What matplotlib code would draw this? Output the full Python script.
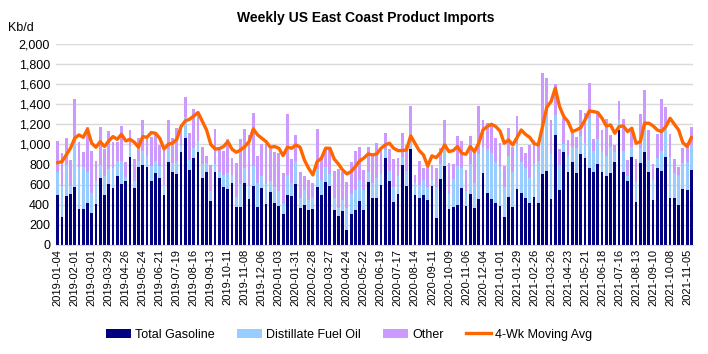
import matplotlib
matplotlib.use("Agg")
import matplotlib.pyplot as plt
import numpy as np
import pandas as pd

plt.rcParams["font.family"] = ["Liberation Sans", "DejaVu Sans"]

# weekly dates, 2019-01-04 .. 2021-11-12
weeks = pd.date_range("2019-01-04", periods=150, freq="7D")
week_labels = [d.strftime("%Y-%m-%d") for d in weeks]

# Kb/d
gasoline = [
    498, 282, 491, 508, 574, 355, 355, 415, 315, 405, 670, 498, 607, 564, 687, 604, 637, 879, 564, 780,
    793, 773, 640, 720, 670, 498, 823, 726, 703, 929, 1068, 746, 869, 925, 663, 726, 435, 726, 663, 580,
    554, 620, 381, 381, 614, 454, 590, 381, 564, 408, 524, 415, 385, 305, 498, 484, 604, 371, 398, 348,
    355, 580, 498, 630, 587, 348, 292, 338, 149, 305, 348, 435, 350, 624, 464, 464, 597, 862, 637, 425,
    508, 796, 590, 955, 498, 464, 498, 448, 587, 272, 660, 789, 355, 381, 401, 567, 388, 504, 365, 454,
    720, 521, 461, 421, 388, 275, 481, 378, 557, 521, 464, 421, 474, 418, 703, 736, 458, 1095, 547, 922,
    730, 829, 713, 906, 862, 763, 730, 806, 730, 687, 720, 826, 1144, 730, 637, 879, 431, 813, 929, 726,
    448, 770, 736, 879, 471, 464, 398, 561, 547, 746,
]
distillate = [
    230, 300, 300, 80, 470, 420, 420, 310, 200, 230, 130, 190, 150, 200, 150, 230, 40, 100, 70, 60,
    140, 110, 150, 120, 120, 100, 130, 90, 130, 60, 200, 100, 100, 110, 140, 90, 100, 80, 60, 120,
    160, 80, 100, 230, 150, 130, 200, 240, 120, 200, 110, 160, 150, 100, 200, 130, 230, 100, 150, 100,
    120, 180, 150, 150, 120, 120, 80, 110, 220, 200, 200, 210, 200, 100, 150, 200, 110, 80, 100, 150,
    180, 80, 150, 100, 120, 130, 150, 130, 60, 300, 150, 170, 150, 280, 380, 200, 150, 300, 250, 450,
    250, 430, 450, 400, 390, 300, 400, 350, 450, 300, 300, 250, 330, 420, 450, 600, 450, 200, 250, 80,
    150, 150, 250, 180, 150, 500, 200, 250, 200, 200, 250, 100, 100, 200, 50, 100, 200, 150, 250, 120,
    200, 100, 200, 300, 400, 250, 300, 250, 280, 250,
]
other = [
    307, 337, 277, 258, 409, 247, 154, 446, 424, 201, 371, 267, 374, 264, 185, 347, 152, 165, 225, 228,
    311, 195, 281, 271, 205, 362, 291, 245, 335, 182, 208, 265, 384, 275, 176, 64, 261, 345, 237, 239,
    337, 162, 338, 440, 394, 507, 520, 268, 321, 397, 321, 350, 377, 308, 606, 242, 257, 259, 142, 202,
    145, 398, 228, 165, 265, 268, 388, 278, 261, 318, 384, 327, 196, 248, 282, 348, 272, 169, 215, 277,
    178, 235, 255, 328, 82, 245, 118, 195, 153, 191, 152, 285, 308, 145, 304, 271, 212, 281, 314, 479,
    274, 266, 293, 240, 234, 214, 287, 251, 277, 158, 155, 324, 241, 180, 562, 329, 336, 304, 155, 258,
    165, 139, 115, 257, 298, 346, 121, 248, 214, 364, 125, 69, 189, 321, 159, 165, 221, 337, 363, 298,
    158, 231, 517, 198, 234, 138, 82, 151, 185, 182,
]
moving_avg = [
    819, 829, 896, 962, 1061, 1095, 1071, 1151, 1012, 972, 1028, 979, 1035, 1078, 1051, 1101, 1035, 1051, 1022, 972,
    1078, 1071, 1118, 1111, 1061, 955, 1002, 1012, 1051, 1178, 1234, 1250, 1284, 1317, 1230, 1144, 1000, 955, 958, 979,
    1028, 952, 922, 945, 979, 1028, 1154, 1095, 1061, 1028, 972, 979, 962, 889, 972, 962, 995, 972, 846, 763,
    697, 829, 862, 962, 962, 856, 806, 746, 707, 730, 780, 836, 865, 905, 896, 904, 960, 995, 1012, 962,
    939, 939, 945, 1085, 1012, 939, 896, 786, 886, 869, 919, 995, 929, 939, 979, 912, 902, 979, 929, 1012,
    1144, 1178, 1201, 1178, 1134, 1012, 1045, 995, 1068, 1144, 1100, 1070, 1010, 995, 1178, 1370, 1426, 1559, 1377, 1277,
    1227, 1128, 1144, 1168, 1244, 1333, 1327, 1317, 1260, 1184, 1194, 1111, 1178, 1184, 1128, 1161, 1012, 1028, 1211, 1211,
    1184, 1144, 1128, 1178, 1260, 1201, 1144, 1018, 979, 1068,
]

x = np.arange(len(week_labels))
gas = np.array(gasoline)
dist = np.array(distillate)
oth = np.array(other)

fig = plt.figure(figsize=(7.08, 3.54), dpi=100)
ax = fig.add_axes([0.0785, 0.308, 0.901, 0.568])

bw = 0.66
b1 = ax.bar(x, gas, width=bw, color="#000080", label="Total Gasoline", zorder=2)
b2 = ax.bar(x, dist, width=bw, bottom=gas, color="#99ccff", label="Distillate Fuel Oil", zorder=2)
b3 = ax.bar(x, oth, width=bw, bottom=gas + dist, color="#cc99ff", label="Other", zorder=2)
ln, = ax.plot(x, moving_avg, color="#ff6600", linewidth=2.4, label="4-Wk Moving Avg", zorder=3)

ax.set_xlim(-0.5, len(x) - 0.5)
ax.set_ylim(0, 2000)
ax.set_yticks(np.arange(0, 2001, 200))
ax.set_yticklabels([f"{v:,}" for v in range(0, 2001, 200)], fontsize=9)
ax.yaxis.grid(True, color="#d9d9d9", linewidth=1)
ax.set_axisbelow(True)
for s in ["top", "right", "left"]:
    ax.spines[s].set_visible(False)
ax.spines["bottom"].set_color("#d9d9d9")
ax.tick_params(axis="y", length=0, pad=4)
ax.tick_params(axis="x", length=0, pad=3)

ax.set_xticks(x[::4])
ax.set_xticklabels(week_labels[::4], rotation=90, fontsize=8)

fig.text(0.516, 0.95, "Weekly US East Coast Product Imports", ha="center", va="center",
         fontsize=10, fontweight="bold")
fig.text(0.012, 0.92, "Kb/d", ha="left", va="center", fontsize=9)

ax.legend([b1, b2, b3, ln], ["Total Gasoline", "Distillate Fuel Oil", "Other", "4-Wk Moving Avg"],
          loc="upper center", bbox_to_anchor=(0.46, -0.36), ncol=4, frameon=False,
          fontsize=9, handlelength=2.0, handleheight=0.8, columnspacing=1.8, handletextpad=0.3)

fig.savefig("out.png", dpi=100)
